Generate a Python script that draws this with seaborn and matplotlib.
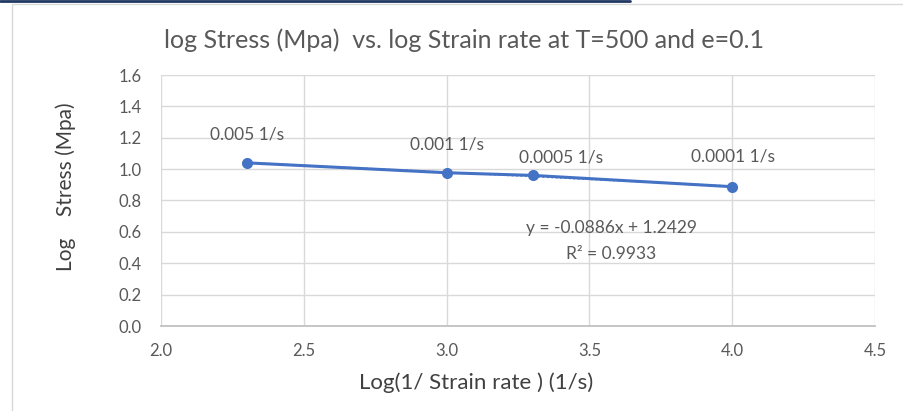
import matplotlib
matplotlib.use('Agg')
import matplotlib.pyplot as plt
import seaborn as sns
import pandas as pd

# log(1/strain rate) vs log stress
strain_labels = ['0.005 1/s', '0.001 1/s', '0.0005 1/s', '0.0001 1/s']
log_inv_rate = [2.301, 3.0, 3.301, 4.0]
log_stress = [1.040, 0.977, 0.960, 0.888]

x_ticks = [2.0, 2.5, 3.0, 3.5, 4.0, 4.5]
y_ticks = [0.0, 0.2, 0.4, 0.6, 0.8, 1.0, 1.2, 1.4, 1.6]

# label offsets in pixels (Excel labels were nudged by hand)
label_offsets = [(0, 28), (0, 28), (28, 18), (1, 30)]

df = pd.DataFrame({'x': log_inv_rate, 'y': log_stress})

sns.set_theme(style='white')
plt.rcParams['font.family'] = ['Lato', 'DejaVu Sans']

blue = '#4472C4'
grey_txt = '#595959'

fig = plt.figure(figsize=(9.04, 4.11), dpi=100)
ax = fig.add_axes([161 / 904, 1 - 326 / 411, 714 / 904, 251 / 411])

# chart frame like excel
fig.add_artist(plt.Line2D([12 / 904, 12 / 904], [0, 1 - 4 / 411], transform=fig.transFigure,
                          color='#D9D9D9', lw=1))
fig.add_artist(plt.Line2D([12 / 904, 1], [1 - 4 / 411, 1 - 4 / 411], transform=fig.transFigure,
                          color='#D9D9D9', lw=1))
fig.add_artist(plt.Line2D([0, 630 / 904], [1 - 1 / 411, 1 - 1 / 411], transform=fig.transFigure,
                          color='#1F3864', lw=2))

# trendline (linear fit) and series
sns.regplot(data=df, x='x', y='y', ax=ax, scatter=False, ci=None, truncate=True,
            line_kws=dict(color=blue, lw=1.2, ls=':'))
sns.lineplot(data=df, x='x', y='y', ax=ax, color=blue, lw=2.2, marker='o',
             markersize=8, markeredgewidth=0)

for lbl, xv, yv, off in zip(strain_labels, log_inv_rate, log_stress, label_offsets):
    ax.annotate(lbl, (xv, yv), xytext=off, textcoords='offset pixels',
                ha='center', va='center', fontsize=12.5, color=grey_txt)

ax.text(611 / 904, 1 - 228 / 411, 'y = -0.0886x + 1.2429', transform=fig.transFigure,
        ha='center', va='center', fontsize=12.5, color=grey_txt)
ax.text(611 / 904, 1 - 254 / 411, 'R² = 0.9933', transform=fig.transFigure,
        ha='center', va='center', fontsize=12.5, color=grey_txt)

ax.set_xlim(2.0, 4.5)
ax.set_ylim(0.0, 1.6)
ax.set_xticks(x_ticks)
ax.set_yticks(y_ticks)
ax.set_xticklabels([f'{t:.1f}' for t in x_ticks])
ax.set_yticklabels([f'{t:.1f}' for t in y_ticks])
ax.tick_params(axis='both', length=0, labelsize=12, labelcolor=grey_txt)
ax.tick_params(axis='x', pad=12)
ax.tick_params(axis='y', pad=14)
ax.grid(True, color='#D9D9D9', lw=1)
for side in ['top', 'right', 'left']:
    ax.spines[side].set_visible(False)
ax.spines['bottom'].set_color('#BFBFBF')

ax.set_xlabel('')
ax.set_ylabel('')
fig.text(476 / 904, 1 - 383 / 411, 'Log(1/ Strain rate ) (1/s)', ha='center', va='center',
         fontsize=16, color='#404040')
fig.text(66 / 904, 1 - 187 / 411, 'Log    Stress (Mpa)', ha='center', va='center',
         rotation=90, fontsize=15, color='#404040')
fig.text(464 / 904, 1 - 40 / 411, 'log Stress (Mpa)  vs. log Strain rate at T=500 and e=0.1',
         ha='center', va='center', fontsize=18, color=grey_txt)

fig.savefig('out.png', dpi=100)
